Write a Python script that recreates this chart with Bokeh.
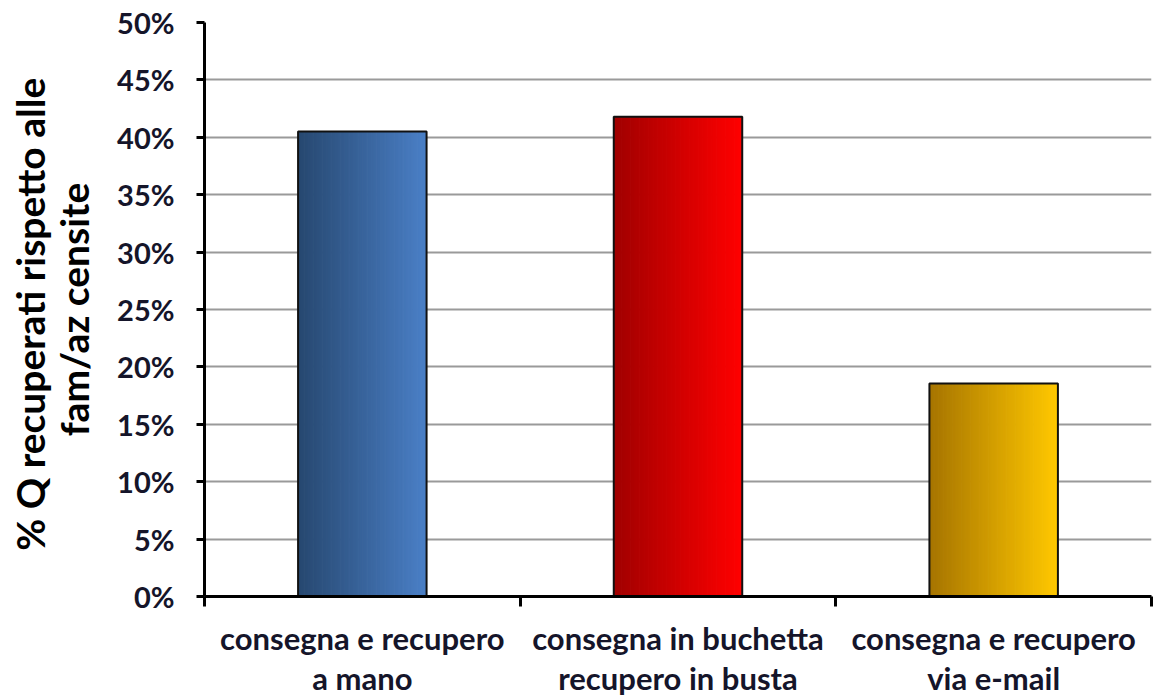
from bokeh.plotting import figure
from bokeh.models import (ColumnDataSource, FixedTicker, LinearAxis, NumeralTickFormatter,
                          Range1d)
from bokeh.embed import file_html
from bokeh.resources import INLINE

# ---- data ----
categories_line1 = ["consegna e recupero", "consegna in buchetta", "consegna e recupero"]
categories_line2 = ["a mano", "recupero in busta", "via e-mail"]
values = [0.405, 0.418, 0.1855]
y_ticks = [0.0, 0.05, 0.10, 0.15, 0.20, 0.25, 0.30, 0.35, 0.40, 0.45, 0.50]
y_title_line1 = "% Q  recuperati rispetto alle"
y_title_line2 = "fam/az censite"
left_colors = [(0x27, 0x48, 0x70), (0xA0, 0x00, 0x00), (0xA6, 0x74, 0x00)]
right_colors = [(0x4A, 0x7F, 0xC6), (0xFF, 0x00, 0x00), (0xFF, 0xC8, 0x00)]

FONT = "Lato"
TEXT_COLOR = "#15152a"
bar_width = 0.407
n_strips = 100

centers = [i + 0.5 for i in range(len(values))]
bounds = [float(i) for i in range(len(values) + 1)]

p = figure(frame_width=947, frame_height=574, output_backend="svg", toolbar_location=None,
           x_range=Range1d(0, len(values)), y_range=Range1d(0, 0.5),
           min_border_left=204, min_border_top=22, min_border_right=2, min_border_bottom=10,
           x_axis_location=None, y_axis_location=None)
p.outline_line_color = None
p.background_fill_color = "white"
p.border_fill_color = "white"

# gradient bars: thin strips built from the data
xs, tops, ws, cols = [], [], [], []
for c, v, lc, rc in zip(centers, values, left_colors, right_colors):
    sw = bar_width / n_strips
    for k in range(n_strips):
        t = k / (n_strips - 1)
        col = "#%02x%02x%02x" % tuple(int(round(a + (b - a) * t)) for a, b in zip(lc, rc))
        xs.append(c - bar_width / 2 + (k + 0.5) * sw)
        tops.append(v)
        ws.append(sw * 1.6)
        cols.append(col)
strips = ColumnDataSource(dict(x=xs, top=tops, w=ws, color=cols))
p.vbar(x="x", top="top", width="w", bottom=0, source=strips, fill_color="color", line_color=None)

outline = ColumnDataSource(dict(x=centers, top=values))
p.vbar(x="x", top="top", width=bar_width, bottom=0, source=outline, fill_color=None,
       line_color="#111111", line_width=2)

# y axis (ticks, labels, second title line)
yax = LinearAxis(ticker=FixedTicker(ticks=y_ticks), formatter=NumeralTickFormatter(format="0%"))
yax.axis_line_width = 3
yax.axis_line_color = "black"
yax.major_tick_line_width = 3
yax.major_tick_in = 0
yax.major_tick_out = 8
yax.minor_tick_line_color = None
yax.major_label_text_font = FONT
yax.major_label_text_font_style = "bold"
yax.major_label_text_font_size = "29px"
yax.major_label_text_color = TEXT_COLOR
yax.major_label_standoff = 22
yax.axis_label = y_title_line2
yax.axis_label_text_font = FONT
yax.axis_label_text_font_style = "bold"
yax.axis_label_text_font_size = "39px"
yax.axis_label_text_color = "black"
yax.axis_label_standoff = 17
p.add_layout(yax, "left")

# outer left axis carrying only the first title line
yax_t = LinearAxis(ticker=FixedTicker(ticks=[]))
yax_t.axis_line_color = None
yax_t.major_tick_line_color = None
yax_t.minor_tick_line_color = None
yax_t.major_label_text_font_size = "0px"
yax_t.axis_label = y_title_line1
yax_t.axis_label_text_font = FONT
yax_t.axis_label_text_font_style = "bold"
yax_t.axis_label_text_font_size = "39px"
yax_t.axis_label_text_color = "black"
yax_t.axis_label_standoff = -4
p.add_layout(yax_t, "left")

# x axis, line 1 with ticks at category boundaries
xax = LinearAxis(ticker=FixedTicker(ticks=centers, minor_ticks=bounds))
xax.major_label_overrides = {c: s for c, s in zip(centers, categories_line1)}
xax.axis_line_width = 3
xax.axis_line_color = "black"
xax.major_tick_line_color = None
xax.major_tick_in = 0
xax.major_tick_out = 0
xax.minor_tick_line_width = 3
xax.minor_tick_in = 0
xax.minor_tick_out = 10
xax.major_label_text_font = FONT
xax.major_label_text_font_style = "bold"
xax.major_label_text_font_size = "31px"
xax.major_label_text_color = TEXT_COLOR
xax.major_label_standoff = 12
p.add_layout(xax, "below")

# x axis, line 2
xax2 = LinearAxis(ticker=FixedTicker(ticks=centers))
xax2.major_label_overrides = {c: s for c, s in zip(centers, categories_line2)}
xax2.axis_line_color = None
xax2.major_tick_line_color = None
xax2.minor_tick_line_color = None
xax2.major_tick_in = 0
xax2.major_tick_out = 0
xax2.major_label_text_font = FONT
xax2.major_label_text_font_style = "bold"
xax2.major_label_text_font_size = "31px"
xax2.major_label_text_color = TEXT_COLOR
xax2.major_label_standoff = -1
p.add_layout(xax2, "below")

# grid
p.ygrid.ticker = FixedTicker(ticks=y_ticks)
p.ygrid.grid_line_color = "#9a9a9a"
p.ygrid.grid_line_width = 2
p.xgrid.grid_line_color = None

open("out.html", "w").write(file_html(p, INLINE))
